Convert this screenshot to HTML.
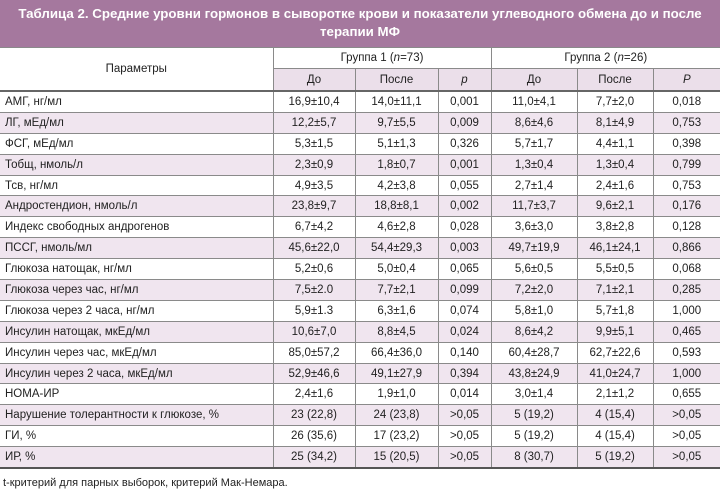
<!DOCTYPE html>
<html><head><meta charset="utf-8"><style>
body{margin:0;width:720px;height:493px;background:#fff;font-family:"Liberation Sans",Arial,sans-serif;overflow:hidden}
.t{position:absolute;left:0;top:0;width:720px;height:47px;background:#a5789e;color:#fff;font-weight:bold;font-size:13.3px;text-align:center;line-height:18px;padding-top:5px;box-sizing:border-box}
table{position:absolute;left:0;top:47px;border-collapse:collapse;table-layout:fixed;width:720px;font-size:11.5px;color:#222}
td{border:1px solid #8a8a8a;padding:0;text-align:center;height:19.9px;white-space:nowrap}
td.l{text-align:left;padding-left:5px;border-left:none}
td:last-child{border-right:none}
tr.h1 td{height:20px}
tr.h2 td{height:21px;background:#ebdfea;border-bottom:2px solid #666}
tr.h1 td.p{text-align:center;padding-left:0;background:#fff;border-bottom:2px solid #666;border-left:none}
tr:nth-child(2n+4) td{background:#f0e5ef}
tr.last td{border-bottom:2px solid #555}
.f{position:absolute;left:3px;top:477px;font-size:11px;color:#222}
</style></head><body>
<div class="t">Таблица 2. Средние уровни гормонов в сыворотке крови и показатели углеводного обмена до и после<br>терапии МФ</div>
<table>
<colgroup><col style="width:273px"><col style="width:82px"><col style="width:83px"><col style="width:53px"><col style="width:86px"><col style="width:76px"><col style="width:67px"></colgroup>
<tr class="h1"><td class="p" rowspan="2">Параметры</td><td colspan="3">Группа 1 (<i>n</i>=73)</td><td colspan="3">Группа 2 (<i>n</i>=26)</td></tr>
<tr class="h2"><td>До</td><td>После</td><td><i>p</i></td><td>До</td><td>После</td><td><i>P</i></td></tr>
<tr><td class="l">АМГ, нг/мл</td><td>16,9±10,4</td><td>14,0±11,1</td><td>0,001</td><td>11,0±4,1</td><td>7,7±2,0</td><td>0,018</td></tr>
<tr><td class="l">ЛГ, мЕд/мл</td><td>12,2±5,7</td><td>9,7±5,5</td><td>0,009</td><td>8,6±4,6</td><td>8,1±4,9</td><td>0,753</td></tr>
<tr><td class="l">ФСГ, мЕд/мл</td><td>5,3±1,5</td><td>5,1±1,3</td><td>0,326</td><td>5,7±1,7</td><td>4,4±1,1</td><td>0,398</td></tr>
<tr><td class="l">Тобщ, нмоль/л</td><td>2,3±0,9</td><td>1,8±0,7</td><td>0,001</td><td>1,3±0,4</td><td>1,3±0,4</td><td>0,799</td></tr>
<tr><td class="l">Тсв, нг/мл</td><td>4,9±3,5</td><td>4,2±3,8</td><td>0,055</td><td>2,7±1,4</td><td>2,4±1,6</td><td>0,753</td></tr>
<tr><td class="l">Андростендион, нмоль/л</td><td>23,8±9,7</td><td>18,8±8,1</td><td>0,002</td><td>11,7±3,7</td><td>9,6±2,1</td><td>0,176</td></tr>
<tr><td class="l">Индекс свободных андрогенов</td><td>6,7±4,2</td><td>4,6±2,8</td><td>0,028</td><td>3,6±3,0</td><td>3,8±2,8</td><td>0,128</td></tr>
<tr><td class="l">ПССГ, нмоль/мл</td><td>45,6±22,0</td><td>54,4±29,3</td><td>0,003</td><td>49,7±19,9</td><td>46,1±24,1</td><td>0,866</td></tr>
<tr><td class="l">Глюкоза натощак, нг/мл</td><td>5,2±0,6</td><td>5,0±0,4</td><td>0,065</td><td>5,6±0,5</td><td>5,5±0,5</td><td>0,068</td></tr>
<tr><td class="l">Глюкоза через час, нг/мл</td><td>7,5±2.0</td><td>7,7±2,1</td><td>0,099</td><td>7,2±2,0</td><td>7,1±2,1</td><td>0,285</td></tr>
<tr><td class="l">Глюкоза через 2 часа, нг/мл</td><td>5,9±1.3</td><td>6,3±1,6</td><td>0,074</td><td>5,8±1,0</td><td>5,7±1,8</td><td>1,000</td></tr>
<tr><td class="l">Инсулин натощак, мкЕд/мл</td><td>10,6±7,0</td><td>8,8±4,5</td><td>0,024</td><td>8,6±4,2</td><td>9,9±5,1</td><td>0,465</td></tr>
<tr><td class="l">Инсулин через час, мкЕд/мл</td><td>85,0±57,2</td><td>66,4±36,0</td><td>0,140</td><td>60,4±28,7</td><td>62,7±22,6</td><td>0,593</td></tr>
<tr><td class="l">Инсулин через 2 часа, мкЕд/мл</td><td>52,9±46,6</td><td>49,1±27,9</td><td>0,394</td><td>43,8±24,9</td><td>41,0±24,7</td><td>1,000</td></tr>
<tr><td class="l">HOMA-ИР</td><td>2,4±1,6</td><td>1,9±1,0</td><td>0,014</td><td>3,0±1,4</td><td>2,1±1,2</td><td>0,655</td></tr>
<tr><td class="l">Нарушение толерантности к глюкозе, %</td><td>23 (22,8)</td><td>24 (23,8)</td><td>&gt;0,05</td><td>5 (19,2)</td><td>4 (15,4)</td><td>&gt;0,05</td></tr>
<tr><td class="l">ГИ, %</td><td>26 (35,6)</td><td>17 (23,2)</td><td>&gt;0,05</td><td>5 (19,2)</td><td>4 (15,4)</td><td>&gt;0,05</td></tr>
<tr class="last"><td class="l">ИР, %</td><td>25 (34,2)</td><td>15 (20,5)</td><td>&gt;0,05</td><td>8 (30,7)</td><td>5 (19,2)</td><td>&gt;0,05</td></tr>
</table>
<div class="f">t-критерий для парных выборок, критерий Мак-Немара.</div>
</body></html>
